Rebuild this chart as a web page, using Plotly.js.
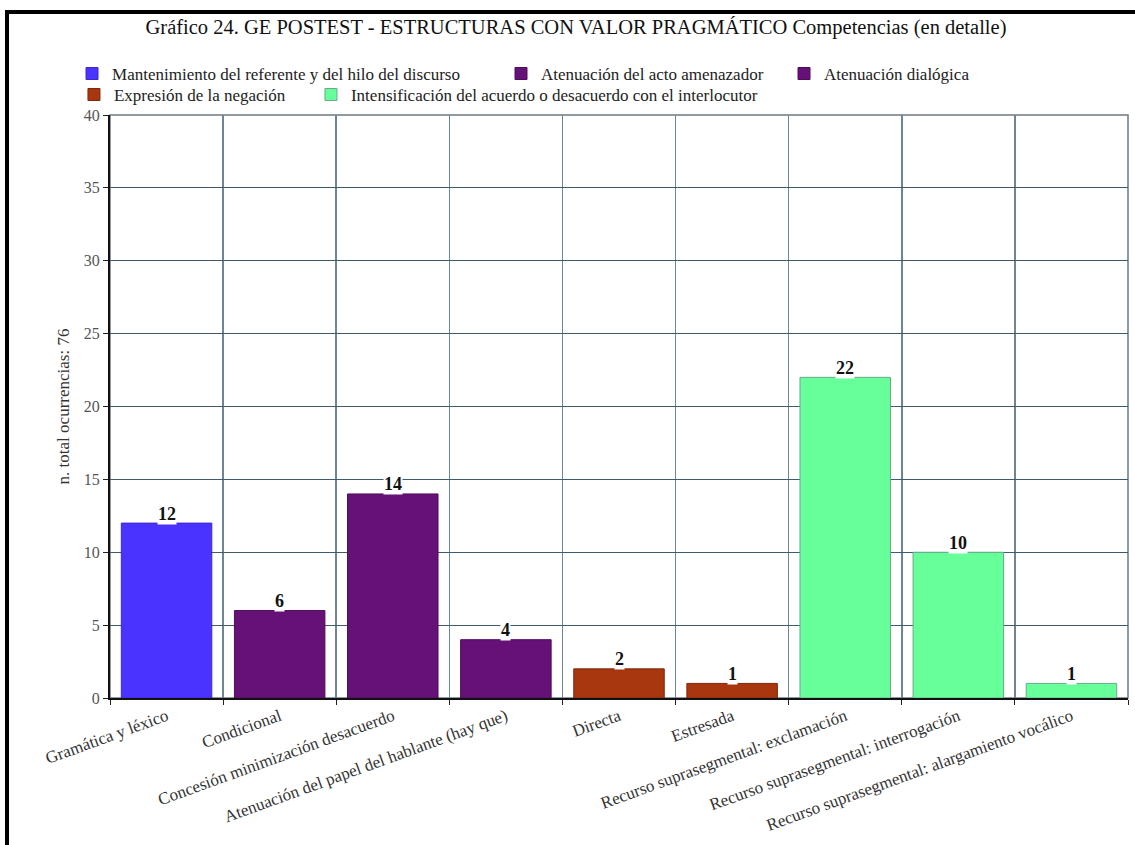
<!DOCTYPE html>
<html>
<head>
<meta charset="utf-8">
<script src="https://cdn.plot.ly/plotly-3.0.1.min.js"></script>
<style>
  html, body { margin: 0; padding: 0; background: #fff; }
  #wrap { position: relative; width: 1135px; height: 845px; overflow: hidden; }
  #chart { position: absolute; left: 0; top: 0; width: 1135px; height: 845px; }
  #frame { position: absolute; left: 5px; top: 10px; width: 1140px; height: 850px;
           border-left: 4px solid #000; border-top: 4px solid #000; pointer-events: none; }
</style>
</head>
<body>
<div id="wrap"><div id="chart"></div><div id="frame"></div></div>
<script>
// Data
const categories = [
  "Gramática y léxico",
  "Condicional",
  "Concesión minimización desacuerdo",
  "Atenuación del papel del hablante (hay que)",
  "Directa",
  "Estresada",
  "Recurso suprasegmental: exclamación",
  "Recurso suprasegmental: interrogación",
  "Recurso suprasegmental: alargamiento vocálico"
];
const values = [12, 6, 14, 4, 2, 1, 22, 10, 1];
const groupNames = [
  "Mantenimiento del referente y del hilo del discurso",
  "Atenuación del acto amenazador",
  "Atenuación dialógica",
  "Expresión de la negación",
  "Intensificación del acuerdo o desacuerdo con el interlocutor"
];
// index of group for each category
const groupOfCategory = [0, 1, 1, 2, 3, 3, 4, 4, 4];
const groupColors = ["#4a33ff", "#661177", "#661177", "#a8360f", "#66ff99"];
const groupLineColors = ["#3a28c8", "#4d0d5a", "#4d0d5a", "#7e280b", "#6aa88a"];
const yTitle = "n. total ocurrencias: 76";
const chartTitle = "Gráfico 24. GE POSTEST - ESTRUCTURAS CON VALOR PRAGMÁTICO Competencias (en detalle)";

const serif = "Liberation Serif, Times New Roman, serif";

// legend placement (one legend box per group, laid out in two rows)
const legendIds = ["legend", "legend2", "legend3", "legend4", "legend5"];
const legendPos = [
  { x: -0.0373, y: 1.0704 },
  { x: 0.3841, y: 1.0704 },
  { x: 0.6621, y: 1.0704 },
  { x: -0.0354, y: 1.0344 },
  { x: 0.1974, y: 1.0344 }
];

const traces = groupNames.map((name, g) => {
  const xs = [], ys = [];
  categories.forEach((c, i) => { if (groupOfCategory[i] === g) { xs.push(c); ys.push(values[i]); } });
  return {
    type: "bar", name: name, x: xs, y: ys, width: 0.8,
    legend: legendIds[g],
    marker: { color: groupColors[g], line: { color: groupLineColors[g], width: 1 } },
    hoverinfo: "x+y"
  };
});

const annotations = categories.map((c, i) => ({
  x: c, y: values[i], xref: "x", yref: "y",
  text: "<b>" + values[i] + "</b>", showarrow: false,
  yanchor: "bottom", yshift: -1.5, bgcolor: "#ffffff", borderpad: 0,
  font: { family: serif, size: 18, color: "#111" }
}));

const layout = {
  width: 1135, height: 845,
  margin: { l: 110, r: 7, t: 115, b: 147 },
  paper_bgcolor: "#ffffff", plot_bgcolor: "#ffffff",
  barmode: "overlay",
  showlegend: true,
  title: {
    text: chartTitle, x: 576 / 1135, xref: "container", xanchor: "center",
    y: 1 - 27 / 845, yref: "container", yanchor: "middle",
    font: { family: serif, size: 20.5, color: "#111" }
  },
  xaxis: {
    type: "category", categoryorder: "array", categoryarray: categories,
    range: [-0.5, 8.5],
    tickson: "boundaries", ticks: "outside", ticklen: 5, tickcolor: "#222",
    showgrid: true, gridcolor: "#6d8594", gridwidth: 1.5,
    showline: true, linecolor: "#111", linewidth: 2,
    tickangle: -20,
    tickfont: { family: serif, size: 17, color: "#333" },
    zeroline: false, fixedrange: true
  },
  yaxis: {
    range: [0, 40], dtick: 5, tick0: 0,
    ticks: "outside", ticklen: 5, tickcolor: "#222",
    showgrid: true, gridcolor: "#3e5a6b", gridwidth: 1,
    showline: true, linecolor: "#111", linewidth: 2,
    tickfont: { family: serif, size: 16, color: "#555" },
    title: { text: yTitle, font: { family: serif, size: 17, color: "#333" }, standoff: 10 },
    zeroline: false, fixedrange: true
  },
  shapes: [{
    type: "rect", xref: "paper", yref: "paper", x0: 0, x1: 1, y0: 0, y1: 1,
    line: { color: "#6d7a82", width: 1.5 }, fillcolor: "rgba(0,0,0,0)", layer: "below"
  }],
  annotations: annotations
};

legendIds.forEach((id, g) => {
  layout[id] = {
    orientation: "h", x: legendPos[g].x, xanchor: "left",
    y: legendPos[g].y, yanchor: "middle",
    font: { family: serif, size: 17, color: "#222" },
    bgcolor: "rgba(0,0,0,0)", borderwidth: 0
  };
});

Plotly.newPlot("chart", traces, layout, { displayModeBar: false, staticPlot: true });
</script>
</body>
</html>
